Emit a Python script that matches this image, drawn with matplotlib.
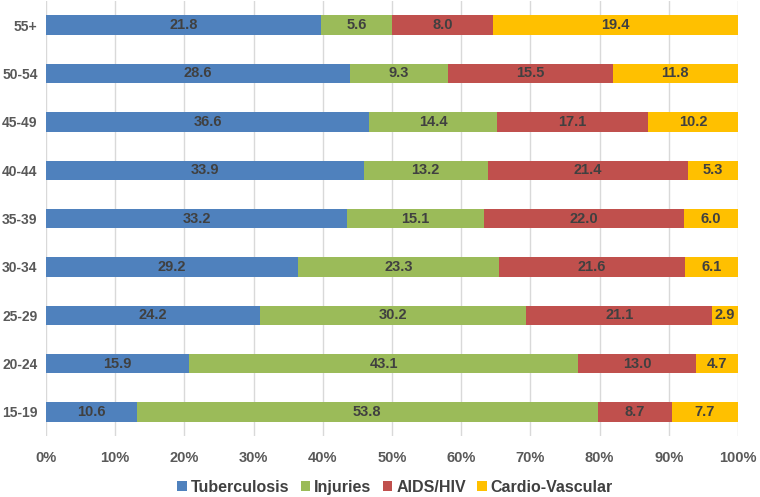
import matplotlib.pyplot as plt
import numpy as np

plt.rcParams['font.family'] = ['Liberation Sans', 'DejaVu Sans']

ages = ['15-19', '20-24', '25-29', '30-34', '35-39', '40-44', '45-49', '50-54', '55+']
tuberculosis = [10.6, 15.9, 24.2, 29.2, 33.2, 33.9, 36.6, 28.6, 21.8]
injuries = [53.8, 43.1, 30.2, 23.3, 15.1, 13.2, 14.4, 9.3, 5.6]
aids_hiv = [8.7, 13.0, 21.1, 21.6, 22.0, 21.4, 17.1, 15.5, 8.0]
cardio = [7.7, 4.7, 2.9, 6.1, 6.0, 5.3, 10.2, 11.8, 19.4]

series = [
    ('Tuberculosis', tuberculosis, '#4F81BD'),
    ('Injuries', injuries, '#9BBB59'),
    ('AIDS/HIV', aids_hiv, '#C0504D'),
    ('Cardio-Vascular', cardio, '#FFC000'),
]

totals = np.sum([np.array(s[1]) for s in series], axis=0)

fig = plt.figure(figsize=(7.6, 4.97), dpi=100)
ax = fig.add_axes([0.0605, 0.1227, 0.9105, 0.8753])

y = np.arange(len(ages))
left = np.zeros(len(ages))
for name, vals, color in series:
    vals = np.array(vals)
    share = vals / totals * 100
    ax.barh(y, share, left=left, height=0.4, color=color, label=name, zorder=3)
    for yi, l, w, v in zip(y, left, share, vals):
        ax.text(l + w / 2, yi, f'{v:.1f}', ha='center', va='center',
                fontsize=10.5, fontweight='bold', color='#404040', zorder=4)
    left += share

ax.set_xlim(0, 100)
ax.set_ylim(-0.5, len(ages) - 0.5)
ax.set_yticks(y)
ax.set_yticklabels(ages)
ax.set_xticks(np.arange(0, 101, 10))
ax.set_xticklabels([f'{t}%' for t in range(0, 101, 10)])
ax.tick_params(axis='both', length=0, labelcolor='#595959')
ax.tick_params(axis='x', pad=11, labelsize=10.5)
ax.tick_params(axis='y', pad=6, labelsize=10)
for lab in ax.get_xticklabels() + ax.get_yticklabels():
    lab.set_fontweight('bold')
ax.grid(axis='x', color='#D9D9D9', linewidth=1, zorder=0)
for sp in ax.spines.values():
    sp.set_visible(False)

leg = fig.legend(loc='lower center', ncol=4, frameon=False,
                 bbox_to_anchor=(0.52, -0.025), handlelength=0.6, handleheight=0.6,
                 handletextpad=0.25, columnspacing=0.7,
                 prop={'size': 11.5, 'weight': 'bold'})
for t in leg.get_texts():
    t.set_color('#404040')

fig.savefig('out.png', dpi=100)
